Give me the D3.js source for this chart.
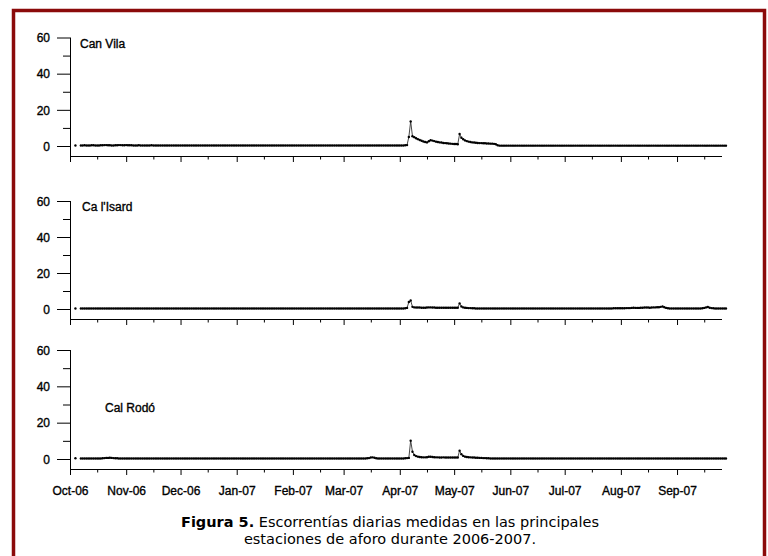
<!DOCTYPE html>
<html>
<head>
<meta charset="utf-8">
<title>Escorrentías diarias 2006-2007</title>
<script src="https://cdn.jsdelivr.net/npm/d3@7"></script>
<style>
	body { margin: 0; background: #fff; }
	.axis text { font-family: "Liberation Sans", Arial, sans-serif; font-size: 12px; fill: #000; stroke: #000; stroke-width: 0.35; }
	.axis line, .axis path { stroke: #000; stroke-width: 1; }
</style>
</head>
<body>
<script type="text/javascript">

//---- DATA ----//

// daily runoff, one row per month (Oct-06 ... Sep-07), null = no data
var canVila = [
	null,null,null,0.3,null,null,0.3,0.3,0.4,0.3, 0.3,0.3,0.4,0.4,0.3,0.3,0.3,0.4,0.4,0.5, 0.5,0.4,0.4,0.3,0.3,0.4,0.4,0.5,0.5,0.4, 0.4,
	0.5,0.4,0.4,0.4,0.3,0.3,0.3,0.4,0.3,0.3, 0.3,0.3,0.3,0.3,0.4,0.3,0.3,0.3,0.3,0.3, 0.3,0.3,0.3,0.3,0.3,0.3,0.3,0.3,0.3,0.3,
	0.3,0.3,0.3,0.3,0.3,0.3,0.3,0.3,0.3,0.3, 0.3,0.3,0.3,0.3,0.3,0.3,0.3,0.3,0.3,0.3, 0.3,0.3,0.3,0.3,0.3,0.3,0.3,0.3,0.3,0.3, 0.3,
	0.3,0.3,0.3,0.3,0.3,0.3,0.3,0.3,0.3,0.3, 0.3,0.3,0.3,0.3,0.3,0.3,0.3,0.3,0.3,0.3, 0.3,0.3,0.3,0.3,0.3,0.3,0.3,0.3,0.3,0.3, 0.3,
	0.3,0.3,0.3,0.3,0.3,0.3,0.3,0.3,0.3,0.3, 0.3,0.3,0.3,0.3,0.3,0.3,0.3,0.3,0.3,0.3, 0.3,0.3,0.3,0.3,0.3,0.3,0.3,0.3,
	0.3,0.3,0.3,0.3,0.3,0.3,0.3,0.3,0.3,0.3, 0.3,0.3,0.3,0.3,0.3,0.3,0.3,0.3,0.3,0.3, 0.3,0.3,0.3,0.3,0.3,0.3,0.3,0.3,0.3,0.3, 0.3,
	0.3,0.3,0.3,0.4,0.5,5.0,13.6,5.4,4.9,4.3, 3.8,3.3,2.9,2.5,2.2,2.0,2.6,3.2,3.0,2.7, 2.4,2.2,2.0,1.9,1.7,1.6,1.5,1.4,1.3,1.2,
	1.1,1.1,1.0,6.6,4.6,3.7,3.1,2.7,2.4,2.2, 2.0,1.9,1.8,1.7,1.6,1.6,1.5,1.5,1.4,1.4, 1.3,1.3,1.2,1.0,0.4,0.2,0.2,0.2,0.2,0.2, 0.2,
	0.2,0.2,0.2,0.2,0.2,0.2,0.2,0.2,0.2,0.2, 0.2,0.2,0.2,0.2,0.2,0.2,0.2,0.2,0.2,0.2, 0.2,0.2,0.2,0.2,0.2,0.2,0.2,0.2,0.2,0.2,
	0.2,0.2,0.2,0.2,0.2,0.2,0.2,0.2,0.2,0.2, 0.2,0.2,0.2,0.2,0.2,0.2,0.2,0.2,0.2,0.2, 0.2,0.2,0.2,0.2,0.2,0.2,0.2,0.2,0.2,0.2, 0.2,
	0.2,0.2,0.2,0.2,0.2,0.2,0.2,0.2,0.2,0.2, 0.2,0.2,0.2,0.2,0.2,0.2,0.2,0.2,0.2,0.2, 0.2,0.2,0.2,0.2,0.2,0.2,0.2,0.2,0.2,0.2, 0.2,
	0.2,0.2,0.2,0.2,0.2,0.2,0.2,0.2,0.2,0.2, 0.2,0.2,0.2,0.2,0.2,0.2,0.2,0.2,0.2,0.2, 0.2,0.2,0.2,0.2,0.2,0.2,0.2,0.2,null,null
];

var caLIsard = [
	null,null,null,0.3,null,null,0.3,0.3,0.3,0.3, 0.3,0.3,0.3,0.3,0.3,0.3,0.3,0.3,0.3,0.3, 0.3,0.3,0.3,0.3,0.3,0.3,0.3,0.3,0.3,0.3, 0.3,
	0.3,0.3,0.3,0.3,0.3,0.3,0.3,0.3,0.3,0.3, 0.3,0.3,0.3,0.3,0.3,0.3,0.3,0.3,0.3,0.3, 0.3,0.3,0.3,0.3,0.3,0.3,0.3,0.3,0.3,0.3,
	0.3,0.3,0.3,0.3,0.3,0.3,0.3,0.3,0.3,0.3, 0.3,0.3,0.3,0.3,0.3,0.3,0.3,0.3,0.3,0.3, 0.3,0.3,0.3,0.3,0.3,0.3,0.3,0.3,0.3,0.3, 0.3,
	0.3,0.3,0.3,0.3,0.3,0.3,0.3,0.3,0.3,0.3, 0.3,0.3,0.3,0.3,0.3,0.3,0.3,0.3,0.3,0.3, 0.3,0.3,0.3,0.3,0.3,0.3,0.3,0.3,0.3,0.3, 0.3,
	0.3,0.3,0.3,0.3,0.3,0.3,0.3,0.3,0.3,0.3, 0.3,0.3,0.3,0.3,0.3,0.3,0.3,0.3,0.3,0.3, 0.3,0.3,0.3,0.3,0.3,0.3,0.3,0.3,
	0.3,0.3,0.3,0.3,0.3,0.3,0.3,0.3,0.3,0.3, 0.3,0.3,0.3,0.3,0.3,0.3,0.3,0.3,0.3,0.3, 0.3,0.3,0.3,0.3,0.3,0.3,0.3,0.3,0.3,0.3, 0.3,
	0.3,0.3,0.3,0.4,0.6,3.9,4.7,1.2,0.9,0.8, 0.8,0.8,0.7,0.7,0.7,0.8,0.9,0.9,0.8,0.8, 0.7,0.7,0.7,0.7,0.7,0.7,0.7,0.7,0.7,0.7,
	0.7,0.7,0.7,3.1,1.4,0.9,0.7,0.6,0.5,0.5, 0.4,0.4,0.3,0.3,0.3,0.3,0.3,0.3,0.3,0.3, 0.3,0.3,0.3,0.3,0.3,0.3,0.3,0.3,0.3,0.3, 0.3,
	0.3,0.3,0.3,0.3,0.3,0.3,0.3,0.3,0.3,0.3, 0.3,0.3,0.3,0.3,0.3,0.3,0.3,0.3,0.3,0.3, 0.3,0.3,0.3,0.3,0.3,0.3,0.3,0.3,0.3,0.3,
	0.3,0.3,0.3,0.3,0.3,0.3,0.3,0.3,0.3,0.3, 0.3,0.3,0.3,0.3,0.3,0.3,0.3,0.3,0.3,0.3, 0.3,0.3,0.3,0.3,0.3,0.3,0.3,0.4,0.4,0.4, 0.4,
	0.4,0.4,0.4,0.5,0.5,0.5,0.6,0.7,0.6,0.6, 0.6,0.7,0.7,0.8,0.8,0.8,0.7,0.8,0.9,0.9, 1.0,1.0,1.2,1.4,1.0,0.6,0.4,0.3,0.3,0.3, 0.3,
	0.3,0.3,0.3,0.3,0.3,0.3,0.3,0.3,0.3,0.3, 0.3,0.3,0.3,0.3,0.4,0.6,0.9,1.1,0.7,0.5, 0.4,0.3,0.3,0.3,0.3,0.3,0.3,0.3,null,null
];

var calRodo = [
	null,null,null,0.4,null,null,0.3,0.3,0.3,0.3, 0.3,0.3,0.3,0.3,0.3,0.3,0.3,0.3,0.4,0.5, 0.6,0.6,0.7,0.6,0.5,0.4,0.4,0.3,0.3,0.3, 0.3,
	0.3,0.3,0.3,0.3,0.3,0.3,0.3,0.3,0.3,0.3, 0.3,0.3,0.3,0.3,0.3,0.3,0.3,0.3,0.3,0.3, 0.3,0.3,0.3,0.3,0.3,0.3,0.3,0.3,0.3,0.3,
	0.3,0.3,0.3,0.3,0.3,0.3,0.3,0.3,0.3,0.3, 0.3,0.3,0.3,0.3,0.3,0.3,0.3,0.3,0.3,0.3, 0.3,0.3,0.3,0.3,0.3,0.3,0.3,0.3,0.3,0.3, 0.3,
	0.3,0.3,0.3,0.3,0.3,0.3,0.3,0.3,0.3,0.3, 0.3,0.3,0.3,0.3,0.3,0.3,0.3,0.3,0.3,0.3, 0.3,0.3,0.3,0.3,0.3,0.3,0.3,0.3,0.3,0.3, 0.3,
	0.3,0.3,0.3,0.3,0.3,0.3,0.3,0.3,0.3,0.3, 0.3,0.3,0.3,0.3,0.3,0.3,0.3,0.3,0.3,0.3, 0.3,0.3,0.3,0.3,0.3,0.3,0.3,0.3,
	0.3,0.3,0.3,0.3,0.3,0.3,0.3,0.3,0.3,0.3, 0.3,0.3,0.3,0.4,0.5,0.8,0.9,0.7,0.4,0.3, 0.3,0.3,0.3,0.3,0.3,0.3,0.3,0.3,0.3,0.3, 0.3,
	0.3,0.3,0.3,0.4,0.5,0.6,10.1,4.0,2.2,1.6, 1.3,1.1,1.0,0.9,0.9,1.0,1.2,1.2,1.1,1.0, 0.9,0.9,0.8,0.8,0.9,0.8,0.8,0.8,0.8,0.8,
	0.8,0.8,0.8,4.6,2.6,1.7,1.3,1.1,1.0,0.9, 0.8,0.8,0.7,0.7,0.6,0.6,0.5,0.5,0.4,0.4, 0.3,0.3,0.3,0.3,0.3,0.3,0.3,0.3,0.3,0.3, 0.3,
	0.3,0.3,0.3,0.3,0.3,0.3,0.3,0.3,0.3,0.3, 0.3,0.3,0.3,0.3,0.3,0.3,0.3,0.3,0.3,0.3, 0.3,0.3,0.3,0.3,0.3,0.3,0.3,0.3,0.3,0.3,
	0.3,0.3,0.3,0.3,0.3,0.3,0.3,0.3,0.3,0.3, 0.3,0.3,0.3,0.3,0.3,0.3,0.3,0.3,0.3,0.3, 0.3,0.3,0.3,0.3,0.3,0.3,0.3,0.3,0.3,0.3, 0.3,
	0.3,0.3,0.3,0.3,0.3,0.3,0.3,0.3,0.3,0.3, 0.3,0.3,0.3,0.3,0.3,0.3,0.3,0.3,0.3,0.3, 0.3,0.3,0.3,0.3,0.3,0.3,0.3,0.3,0.3,0.3, 0.3,
	0.3,0.3,0.3,0.3,0.3,0.3,0.3,0.3,0.3,0.3, 0.3,0.3,0.3,0.3,0.3,0.3,0.3,0.3,0.3,0.3, 0.3,0.3,0.3,0.3,0.3,0.3,0.3,0.3,null,null
];

var stations = ["Can Vila", "Ca l'Isard", "Cal Rodó"];
var series = [canVila, caLIsard, calRodo];
var monthLabels = ["Oct-06", "Nov-06", "Dec-06", "Jan-07", "Feb-07", "Mar-07",
                   "Apr-07", "May-07", "Jun-07", "Jul-07", "Aug-07", "Sep-07"];
var yMajor = [0, 20, 40, 60];
var yMinor = [10, 30, 50];
var captionBold = "Figura 5.";
var captionLine1 = " Escorrentías diarias medidas en las principales";
var captionLine2 = "estaciones de aforo durante 2006-2007.";

//---- LAYOUT ----//

var W = 768, H = 556;
var start = new Date(Date.UTC(2006, 9, 1));
var end = new Date(Date.UTC(2007, 9, 1));
var xLeft = 70, xRight = 731.4, axisEnd = 722;
// y of value 0 / value 60 and label position for each panel
var panels = [
	{y0: 146, y60: 37.5, lx: 80, ly: 48},
	{y0: 309, y60: 201, lx: 82, ly: 211},
	{y0: 459, y60: 350, lx: 105, ly: 412}
];

var svg = d3.select("body").append("svg")
	.attr("width", W)
	.attr("height", H);

svg.append("rect")
	.attr("width", W).attr("height", H)
	.attr("fill", "#fff");

// dark red frame (bottom edge falls outside the picture)
svg.append("rect")
	.attr("x", 13.5).attr("y", 10.5)
	.attr("width", 751).attr("height", 620)
	.attr("fill", "none")
	.attr("stroke", "#8b0a0a")
	.attr("stroke-width", 3.5);

var x = d3.scaleUtc().domain([start, end]).range([xLeft, xRight]);
var monthTicks = d3.utcMonth.range(start, end);
var midTicks = monthTicks.map(function(m) { return d3.utcDay.offset(m, 15); });

panels.forEach(function(p, k) {
	var y = d3.scaleLinear().domain([0, 60]).range([p.y0, p.y60]);
	var axisY = p.y0 + 10;
	var g = svg.append("g");

	// y axis
	var ya = g.append("g").attr("class", "axis").attr("transform", "translate(" + xLeft + ",0)");
	ya.call(d3.axisLeft(y).tickValues(yMajor).tickSize(13).tickPadding(7).tickFormat(d3.format("d")));
	ya.select(".domain").attr("d", "M0.5," + p.y60 + "V" + axisY);
	ya.selectAll("text").attr("dy", "0.36em");
	g.append("g").attr("class", "axis").attr("transform", "translate(" + xLeft + ",0)")
		.call(d3.axisLeft(y).tickValues(yMinor).tickSize(7).tickFormat(""))
		.select(".domain").remove();

	// x axis
	var xa = g.append("g").attr("class", "axis").attr("transform", "translate(0," + axisY + ")");
	xa.call(d3.axisBottom(x).tickValues(monthTicks).tickSize(6)
		.tickFormat(function(d, i) { return k == 2 ? monthLabels[i] : ""; }));
	xa.select(".domain").attr("d", "M" + xLeft + ",0.5H" + axisEnd);
	xa.selectAll("text").attr("y", 26).attr("dy", 0);
	g.append("g").attr("class", "axis").attr("transform", "translate(0," + axisY + ")")
		.call(d3.axisBottom(x).tickValues(midTicks).tickSize(3.5).tickFormat(""))
		.select(".domain").remove();

	// series
	var pts = series[k].map(function(v, i) { return {date: d3.utcDay.offset(start, i), v: v}; });
	var line = d3.line()
		.defined(function(d) { return d.v != null; })
		.x(function(d) { return x(d.date); })
		.y(function(d) { return y(d.v); });
	g.append("path")
		.datum(pts)
		.attr("fill", "none")
		.attr("stroke", "#333")
		.attr("stroke-width", 0.9)
		.attr("d", line);
	g.selectAll(".dot")
		.data(pts.filter(function(d) { return d.v != null; }))
		.enter()
			.append("circle")
			.attr("class", "dot")
			.attr("cx", function(d) { return x(d.date); })
			.attr("cy", function(d) { return y(d.v); })
			.attr("r", 1.2)
			.attr("fill", "#000");

	g.append("text")
		.attr("x", p.lx).attr("y", p.ly)
		.attr("font-family", "Liberation Sans, Arial, sans-serif")
		.attr("font-size", 12)
		.attr("stroke", "#000")
		.attr("stroke-width", 0.35)
		.text(stations[k]);
});

// caption
var cap = svg.append("g")
	.attr("font-family", "DejaVu Sans, Verdana, sans-serif")
	.attr("font-size", 14.5)
	.attr("text-anchor", "middle");
var t1 = cap.append("text").attr("x", 390).attr("y", 527);
t1.append("tspan").attr("font-weight", "bold").text(captionBold);
t1.append("tspan").text(captionLine1);
cap.append("text").attr("x", 390).attr("y", 544).text(captionLine2);

</script>
</body>
</html>
